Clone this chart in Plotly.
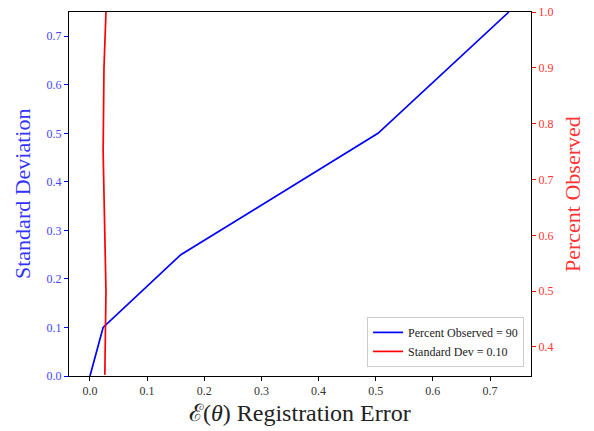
import plotly.graph_objects as go

# Blue series: standard deviation vs registration error
blue_x = [0.0, 0.023, 0.159, 0.504, 0.733]
blue_y = [0.0, 0.1, 0.25, 0.5, 0.75]

# Red series: percent observed vs registration error
red_x = [0.026, 0.028, 0.023, 0.0245, 0.028]
red_y = [0.35, 0.5, 0.75, 0.9, 1.0]

x_ticks = [0.0, 0.1, 0.2, 0.3, 0.4, 0.5, 0.6, 0.7]
left_ticks = [0.0, 0.1, 0.2, 0.3, 0.4, 0.5, 0.6, 0.7]
right_ticks = [0.4, 0.5, 0.6, 0.7, 0.8, 0.9, 1.0]

FONT = "Liberation Serif"
W, H = 594, 431
L, R, T, B = 69, 63, 12, 55
PW, PH = W - L - R, H - T - B

fig = go.Figure()
fig.add_trace(go.Scatter(x=blue_x, y=blue_y, mode="lines",
                         line=dict(color="#0000ff", width=1.7),
                         name="Percent Observed = 90", yaxis="y"))
fig.add_trace(go.Scatter(x=red_x, y=red_y, mode="lines",
                         line=dict(color="#ff0000", width=1.7),
                         name="Standard Dev = 0.10", yaxis="y2"))

fig.update_layout(
    width=W, height=H,
    margin=dict(l=L, r=R, t=T, b=B, autoexpand=False),
    paper_bgcolor="white", plot_bgcolor="white",
    font=dict(family=FONT, size=12, color="#333"),
    xaxis=dict(range=[-0.0367, 0.7717], tickvals=x_ticks,
               ticktext=[f"{v:.1f}" for v in x_ticks],
               showgrid=False, zeroline=False, automargin=False,
               showline=True, linecolor="black", linewidth=1, mirror=True,
               ticks="outside", ticklen=4, tickcolor="black",
               tickfont=dict(family=FONT, size=12, color="#333")),
    yaxis=dict(range=[0, 0.75], tickvals=left_ticks,
               ticktext=[f"{v:.1f}" for v in left_ticks],
               showgrid=False, zeroline=False, automargin=False,
               showline=True, linecolor="black", linewidth=1,
               ticks="outside", ticklen=4, tickcolor="#0000ff",
               tickfont=dict(family=FONT, size=12, color="#4444ff")),
    yaxis2=dict(range=[0.348, 1.0], tickvals=right_ticks,
                ticktext=[f"{v:.1f}" for v in right_ticks],
                overlaying="y", side="right", automargin=False,
                showgrid=False, zeroline=False,
                showline=True, linecolor="black", linewidth=1,
                ticks="outside", ticklen=4, tickcolor="#ff0000",
                tickfont=dict(family=FONT, size=12, color="#ff3333")),
    legend=dict(x=0.985, y=0.025, xanchor="right", yanchor="bottom",
                bgcolor="rgba(255,255,255,0.8)", bordercolor="#cccccc",
                borderwidth=1, font=dict(family=FONT, size=12, color="#222"),
                tracegroupgap=0, itemwidth=30),
    showlegend=True,
    annotations=[
        dict(text="ℰ(<i>θ</i>) Registration Error", xref="paper", yref="paper",
             x=(300 - L) / PW, y=(H - B - 413) / PH, showarrow=False,
             xanchor="center", yanchor="middle",
             font=dict(family=FONT, size=24, color="#222")),
        dict(text="Standard Deviation", xref="paper", yref="paper",
             x=(22 - L) / PW, y=0.5, textangle=-90, showarrow=False,
             xanchor="center", yanchor="middle",
             font=dict(family=FONT, size=22, color="#3333ff")),
        dict(text="Percent Observed", xref="paper", yref="paper",
             x=(572 - L) / PW, y=0.5, textangle=-90, showarrow=False,
             xanchor="center", yanchor="middle",
             font=dict(family=FONT, size=22, color="#ff3333")),
    ],
)

fig.write_html("out.html", config={"displayModeBar": False},
               post_script="document.body.style.margin='0';document.body.style.padding='0';")
